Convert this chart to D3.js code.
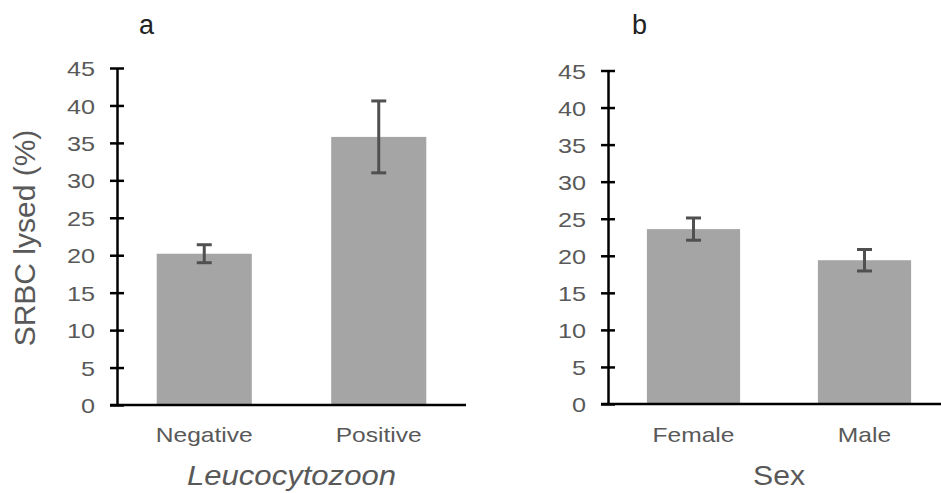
<!DOCTYPE html>
<html><head><meta charset="utf-8">
<script src="https://cdn.jsdelivr.net/npm/d3@7"></script>
<style>body{margin:0;background:#fff}</style>
</head><body>
<svg id="c" width="941" height="493"></svg>
<script>
const yTicks = [0,5,10,15,20,25,30,35,40,45];
const catsA = ["Negative","Positive"];
const meansA = [20.2, 35.8];
const errA = [1.2, 4.8];
const catsB = ["Female","Male"];
const meansB = [23.6, 19.4];
const errB = [1.5, 1.45];
const panelLabels = ["a","b"];
const xTitles = ["Leucocytozoon","Sex"];
const yTitle = "SRBC lysed (%)";

const svg = d3.select("#c");
const FONT = "'Liberation Sans', Arial, sans-serif";
const TXT = "#595959";

function stretch(sel, k){
  sel.each(function(){
    const w = this.getComputedTextLength();
    d3.select(this).attr("textLength", w*k).attr("lengthAdjust","spacingAndGlyphs");
  });
}

function panel(cfg){
  const y = d3.scaleLinear().domain([0,45]).range([cfg.y0, cfg.y45]);
  const x = d3.scaleBand().domain(cfg.cats).range([cfg.ax, cfg.ax2]).paddingInner(0.455).paddingOuter(0.2275);
  const g = svg.append("g");
  // bars
  g.selectAll("rect.bar").data(cfg.cats).join("rect")
    .attr("x", d=>x(d)).attr("width", x.bandwidth())
    .attr("y", (d,i)=>y(cfg.means[i])).attr("height",(d,i)=>y(0)-y(cfg.means[i]))
    .attr("fill","#a5a5a5");
  // error bars
  const eb = g.selectAll("g.eb").data(cfg.cats).join("g");
  eb.append("line").attr("x1",d=>x(d)+x.bandwidth()/2).attr("x2",d=>x(d)+x.bandwidth()/2)
    .attr("y1",(d,i)=>y(cfg.means[i]+cfg.err[i])).attr("y2",(d,i)=>y(cfg.means[i]-cfg.err[i]))
    .attr("stroke","#505050").attr("stroke-width",3);
  [1,-1].forEach(s=>{
    eb.append("line").attr("x1",d=>x(d)+x.bandwidth()/2-7.5).attr("x2",d=>x(d)+x.bandwidth()/2+7.5)
      .attr("y1",(d,i)=>y(cfg.means[i]+s*cfg.err[i])).attr("y2",(d,i)=>y(cfg.means[i]+s*cfg.err[i]))
      .attr("stroke","#505050").attr("stroke-width",3);
  });
  // y axis
  const ya = g.append("g").attr("transform",`translate(${cfg.ax},0)`)
    .call(d3.axisLeft(y).tickValues(yTicks).tickSizeInner(7).tickSizeOuter(0).tickPadding(15));
  ya.select(".domain").attr("stroke","#000").attr("stroke-width",2.5);
  ya.selectAll(".tick line").attr("x2",7).attr("x1",-7).attr("stroke","#000").attr("stroke-width",2.5);
  ya.selectAll(".tick text").attr("x",-22).attr("font-family",FONT).attr("font-size",21).attr("fill",TXT).attr("dy","0.36em");
  stretch(ya.selectAll(".tick text"), 1.2);
  // x axis line
  g.append("line").attr("x1",cfg.ax-7).attr("x2",cfg.xend).attr("y1",y(0)).attr("y2",y(0))
    .attr("stroke","#000").attr("stroke-width",2.5);
  // category labels
  const cl = g.selectAll("text.cat").data(cfg.cats).join("text")
    .attr("x",d=>x(d)+x.bandwidth()/2).attr("y",442).attr("text-anchor","middle")
    .attr("font-family",FONT).attr("font-size",21).attr("fill",TXT).text(d=>d);
  stretch(cl, 1.17);
  // x title
  const xt = g.append("text").attr("x",(cfg.ax+cfg.ax2)/2).attr("y",485).attr("text-anchor","middle")
    .attr("font-family",FONT).attr("font-size",27).attr("fill",TXT)
    .attr("font-style",cfg.italic?"italic":"normal").text(cfg.title);
  xt.attr("textLength",cfg.titleLen).attr("lengthAdjust","spacingAndGlyphs");
  // panel label
  g.append("text").attr("x",cfg.lx).attr("y",34).attr("font-family",FONT).attr("font-size",27)
    .attr("fill","#222").text(cfg.label);
  return g;
}

panel({cats:catsA, means:meansA, err:errA, ax:117, ax2:466, xend:466, y0:405, y45:68,
  title:xTitles[0], italic:true, titleLen:209, label:panelLabels[0], lx:139});
panel({cats:catsB, means:meansB, err:errB, ax:608, ax2:950, xend:941, y0:404, y45:70.5,
  title:xTitles[1], italic:false, titleLen:52, label:panelLabels[1], lx:632});

svg.append("text").attr("transform","translate(35,238) rotate(-90)").attr("text-anchor","middle")
  .attr("font-family",FONT).attr("font-size",30).attr("fill",TXT).text(yTitle);
</script>
</body></html>
